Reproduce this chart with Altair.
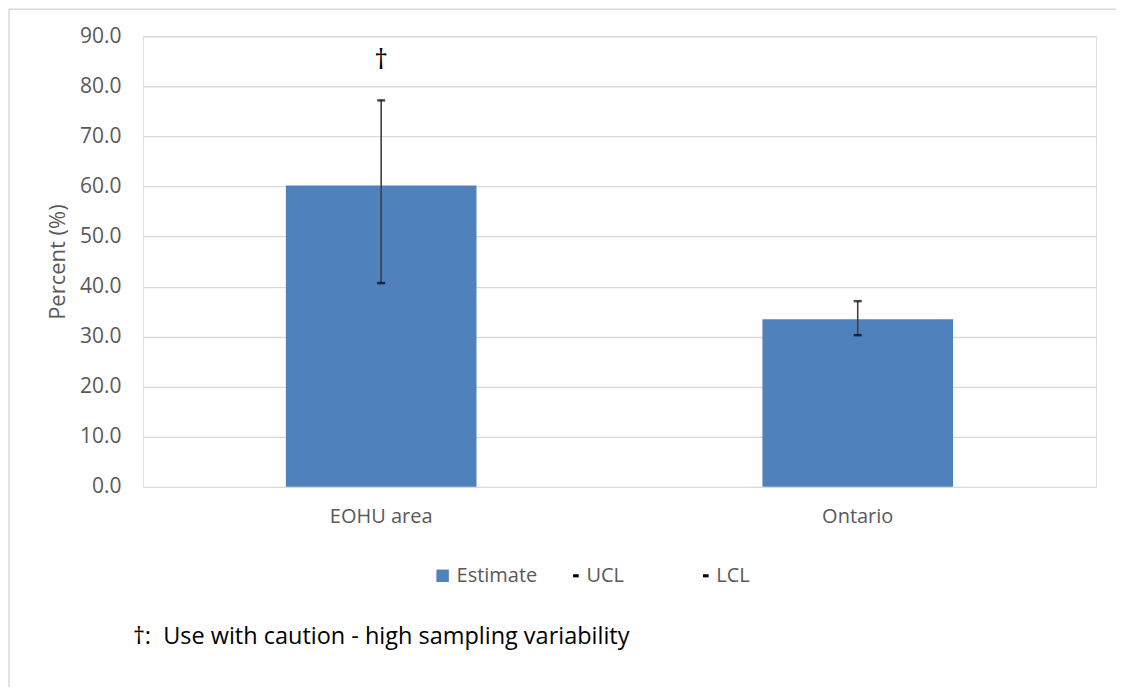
import altair as alt
import pandas as pd

categories = ["EOHU area", "Ontario"]
estimate = [60.2, 33.5]
ucl = [77.2, 37.1]
lcl = [40.7, 30.3]
flags = ["†", ""]
legend_names = ["Estimate", "UCL", "LCL"]
footnote = "†:\u00a0\u00a0Use with caution - high sampling variability"

df = pd.DataFrame({"area": categories, "estimate": estimate, "ucl": ucl,
                   "lcl": lcl, "flag": flags})

FONT = "Open Sans"
W, H = 954, 451

x = alt.X("area:N", sort=categories, title=None,
          scale=alt.Scale(paddingInner=0.6, paddingOuter=0.3),
          axis=alt.Axis(labelAngle=0, labelFontSize=20, labelColor="#595959",
                        labelFont=FONT, labelPadding=20, ticks=False, domain=False,
                        grid=False))
yscale = alt.Scale(domain=[0, 90])
yaxis = alt.Axis(values=list(range(0, 91, 10)), format=".1f", labelFontSize=21,
                 labelColor="#595959", labelFont=FONT, labelPadding=22,
                 ticks=False, domain=False, gridColor="#D9D9D9", gridWidth=1.3,
                 title="Percent (%)", titleFontSize=22, titleColor="#595959",
                 titleFont=FONT, titleFontWeight="normal", titlePadding=10)

base = alt.Chart(df)

bars = base.mark_bar(color="#4F81BD").encode(
    x=x, y=alt.Y("estimate:Q", scale=yscale, axis=yaxis))

rules = base.mark_rule(color="#404040", strokeWidth=1.6).encode(
    x=alt.X("area:N", sort=categories), y="lcl:Q", y2="ucl:Q")

cap_u = base.mark_tick(color="black", thickness=2.5, size=8).encode(
    x=alt.X("area:N", sort=categories), y="ucl:Q")
cap_l = base.mark_tick(color="black", thickness=2.5, size=8).encode(
    x=alt.X("area:N", sort=categories), y="lcl:Q")

dagger = base.mark_text(fontSize=27, color="black", font=FONT, dy=-39,
                        baseline="middle").encode(
    x=alt.X("area:N", sort=categories), y="ucl:Q", text="flag:N")

leg_df = pd.DataFrame({"series": legend_names})
dash = "M0.1,-0.25H1V0.25H0.1Z"
legend_layer = alt.Chart(leg_df).mark_point(filled=True, opacity=1).encode(
    x=alt.value(0),
    y=alt.value(0),
    color=alt.Color("series:N", sort=legend_names,
                    scale=alt.Scale(domain=legend_names,
                                    range=["#4F81BD", "black", "black"]),
                    legend=alt.Legend(title=None, orient="none", legendX=290,
                                      legendY=530, direction="horizontal",
                                      columns=3, gridAlign="all",
                                      columnPadding=25, symbolSize=155,
                                      symbolStrokeWidth=0,
                                      labelFontSize=20, labelColor="#595959",
                                      labelFont=FONT, labelOffset=4)),
    shape=alt.Shape("series:N", sort=legend_names,
                    scale=alt.Scale(domain=legend_names,
                                    range=["square", dash, dash])),
).transform_filter("false")

foot = alt.Chart(pd.DataFrame({"t": [footnote]})).mark_text(
    fontSize=23.5, color="black", font=FONT, align="left", baseline="middle").encode(
    x=alt.value(-10), y=alt.value(601), text="t:N")

frame = alt.Chart(pd.DataFrame({"a": [0]})).mark_rect(
    fill=None, stroke="#D9D9D9", strokeWidth=1.5).encode(
    x=alt.value(-134), x2=alt.value(W + 30), y=alt.value(-27), y2=alt.value(H + 260))

chart = alt.layer(frame, bars, rules, cap_u, cap_l, dagger, legend_layer, foot).properties(
    width=W, height=H,
    autosize=alt.AutoSizeParams(type="none"),
    padding={"left": 135, "top": 28, "right": 20, "bottom": 200},
).configure_view(strokeWidth=0).configure(background="white")

chart.save("out.html", embed_options={"renderer": "svg", "actions": False})
